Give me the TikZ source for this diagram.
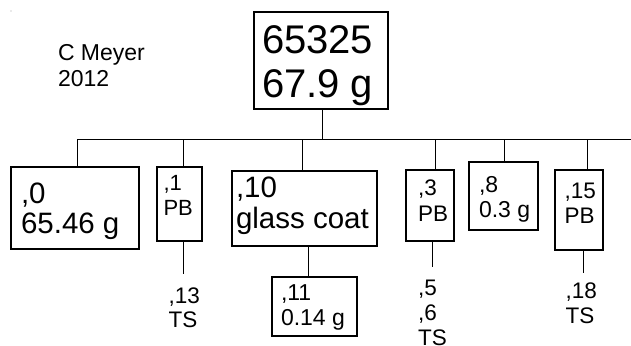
\documentclass[tikz,border=0pt]{standalone}
\usepackage{fontspec}
\setmainfont{Liberation Sans}
% one line of a stacked label
\newcommand\tline[1]{\hbox{#1}}
\begin{document}
\begin{tikzpicture}[x=1pt, y=-1pt,
  box/.style={draw, line width=1.2pt, rectangle, inner sep=0pt, outer sep=0pt, anchor=north west},
  lbl/.style={anchor=base west, inner sep=0pt, outer sep=0pt},
  fs/.style 2 args={font=\fontsize{#1}{#2}\selectfont},
  link/.style={line width=1pt}]
\useasboundingbox (0,0) rectangle (631,345);
\fill[gray!70] (11,11) circle (0.7);

% boxes
\node[box, minimum width=134pt, minimum height=97pt] (top) at (254,12) {};
\node[box, minimum width=128pt, minimum height=82pt] (b0)  at (11,167) {};
\node[box, minimum width=45pt,  minimum height=74pt] (b1)  at (157,167) {};
\node[box, minimum width=145pt, minimum height=75pt] (b10) at (232,171) {};
\node[box, minimum width=85pt,  minimum height=59pt] (b11) at (272,277) {};
\node[box, minimum width=48pt,  minimum height=71pt] (b3)  at (406,170) {};
\node[box, minimum width=69pt,  minimum height=68pt] (b8)  at (469,162) {};
\node[box, minimum width=48pt,  minimum height=80pt] (b15) at (555,170) {};

% texts
\node[lbl, fs={40}{44.5}] (ttop) at (262,53) {\vtop{\tline{65325}\tline{67.9 g}}};
\node[lbl, fs={23}{26}] (author) at (58,60) {\vtop{\tline{C Meyer}\tline{2012}}};
\node[lbl, fs={29.5}{30}] (t0) at (21,203) {\vtop{\tline{,0}\tline{65.46 g}}};
\node[lbl, fs={22}{25}] (t1) at (163.5,190) {\vtop{\tline{,1}\tline{PB}}};
\node[lbl, fs={22.5}{24}] (t13) at (168.5,303) {\vtop{\tline{,13}\tline{TS}}};
\node[lbl, fs={29.5}{31}] (t10) at (236,197) {\vtop{\tline{,10}\tline{glass coat}}};
\node[lbl, fs={23}{25}] (t11) at (281,300) {\vtop{\tline{,11}\tline{0.14 g}}};
\node[lbl, fs={22.5}{26.5}] (t3) at (418,195) {\vtop{\tline{,3}\tline{PB}}};
\node[lbl, fs={22.5}{25}] (t5) at (418,295) {\vtop{\tline{,5}\tline{,6}\tline{TS}}};
\node[lbl, fs={23}{25}] (t8) at (479,192) {\vtop{\tline{,8}\tline{0.3 g}}};
\node[lbl, fs={22.5}{25}] (t15) at (564.5,198) {\vtop{\tline{,15}\tline{PB}}};
\node[lbl, fs={22.5}{25}] (t18) at (565.5,298) {\vtop{\tline{,18}\tline{TS}}};

% bus and drops
\coordinate (hub) at (322,139);
\coordinate (s0) at (77,139);
\coordinate (s1) at (183,139);
\coordinate (s10) at (302,139);
\coordinate (s3) at (435,139);
\coordinate (s8) at (504,139);
\coordinate (s15) at (587,139);
\coordinate (busR) at (631,139);
\draw[link] (top.south -| hub) -- (hub);
\draw[link] (s0) -- (busR);
\foreach \s/\b in {s0/b0, s1/b1, s10/b10, s3/b3, s8/b8, s15/b15}
  \draw[link] (\s) -- (\s |- \b.north);

% lower links
\coordinate (e1) at (183,274);
\coordinate (k10) at (308,0);
\coordinate (e3) at (432,267);
\coordinate (e15) at (583,273);
\draw[link] (e1 |- b1.south) -- (e1);
\draw[link] (k10 |- b10.south) -- (k10 |- b11.north);
\draw[link] (e3 |- b3.south) -- (e3);
\draw[link] (e15 |- b15.south) -- (e15);
\end{tikzpicture}
\end{document}
